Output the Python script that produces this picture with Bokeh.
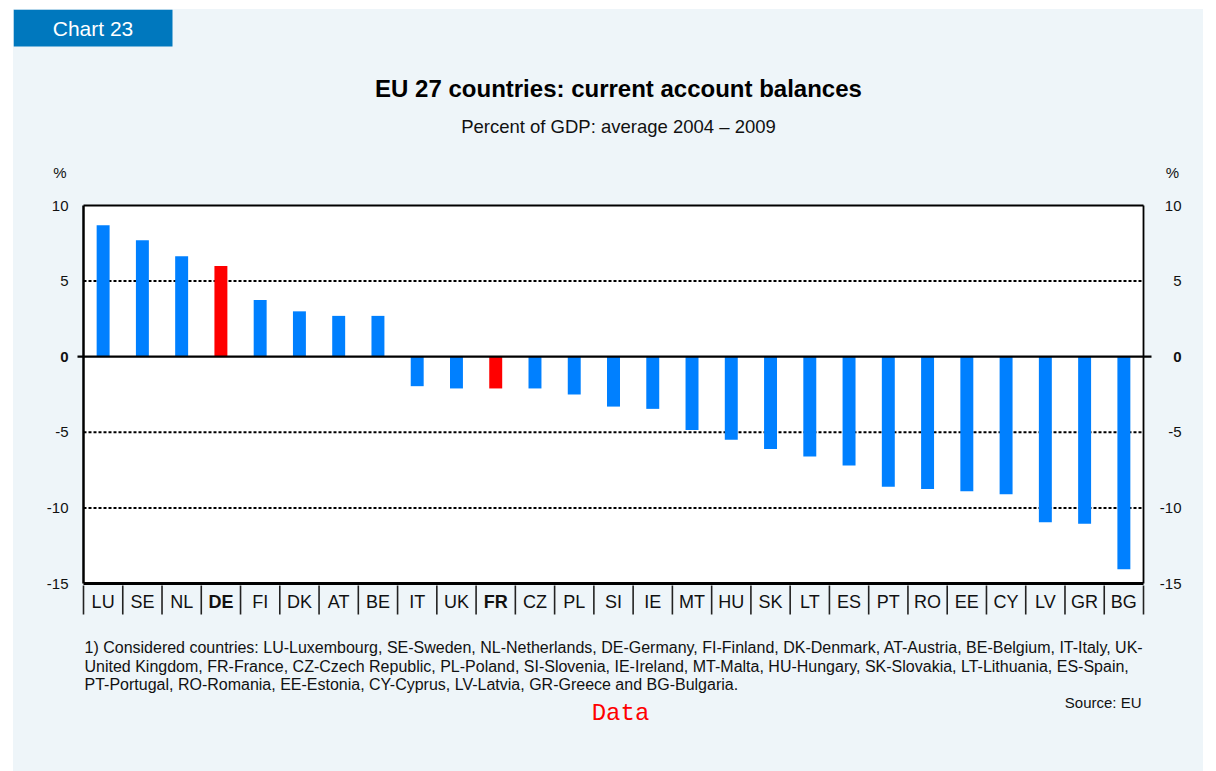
from bokeh.plotting import figure
from bokeh.layouts import column
from bokeh.models import ColumnDataSource, Range1d
from bokeh.embed import file_html
from bokeh.resources import INLINE
from bokeh.core.properties import value

# ---------------- data ----------------
countries = ["LU", "SE", "NL", "DE", "FI", "DK", "AT", "BE", "IT", "UK", "FR", "CZ", "PL", "SI",
             "IE", "MT", "HU", "SK", "LT", "ES", "PT", "RO", "EE", "CY", "LV", "GR", "BG"]
balances = [8.7, 7.7, 6.65, 6.0, 3.75, 3.0, 2.7, 2.7, -1.95, -2.1, -2.1, -2.1, -2.5, -3.3,
            -3.45, -4.85, -5.5, -6.1, -6.6, -7.2, -8.6, -8.75, -8.9, -9.1, -10.95, -11.05, -14.05]
highlight = ["DE", "FR"]
y_ticks = [-15, -10, -5, 0, 5, 10]
y_tick_labels = ["-15", "-10", "-5", "0", "5", "10"]
grid_ticks = [-10, -5, 5]

chart_no = "Chart 23"
title_text = "EU 27 countries: current account balances"
subtitle_text = "Percent of GDP: average 2004 \u2013 2009"
unit_text = "%"
footnote_lines = [
    "1) Considered countries: LU-Luxembourg, SE-Sweden, NL-Netherlands, DE-Germany, FI-Finland, DK-Denmark, AT-Austria, BE-Belgium, IT-Italy, UK-",
    "United Kingdom, FR-France, CZ-Czech Republic, PL-Poland, SI-Slovenia, IE-Ireland, MT-Malta, HU-Hungary, SK-Slovakia, LT-Lithuania, ES-Spain,",
    "PT-Portugal, RO-Romania, EE-Estonia, CY-Cyprus, LV-Latvia, GR-Greece and BG-Bulgaria.",
]
source_text = "Source: EU"
data_text = "Data"

# ---------------- styling / layout (window pixel coordinates) ----------------
PANEL = "#EEF5F9"
BLUE = "#0080FF"
RED = "#FF0000"
TAB = "#0078BE"
INK = "#111111"
FONT = "Liberation Sans"
MONO = "Liberation Mono"

LEFT, TOP, RIGHT, BOTTOM = 13, 9, 1203, 771
W = RIGHT - LEFT
HDR_BOTTOM = 190          # header figure: window y 9..190
MAIN_BOTTOM = 622         # main figure: window y 190..622
FRAME_L, FRAME_R = 83, 1143
FRAME_T, AXIS_B = 205, 583
Y0, Y1 = -15, 10
n = len(countries)

xpx = (FRAME_R - FRAME_L) / n                 # pixels per category
ypx = (AXIS_B - FRAME_T) / (Y1 - Y0)          # pixels per percentage point


def xdata(wx):
    return (wx - FRAME_L) / xpx


def ydata(wy):
    return Y1 - (wy - FRAME_T) / ypx


def text_layer(fig, rows):
    cols = dict(x=[], y=[], text=[], size=[], style=[], align=[], color=[], font=[])
    for r in rows:
        for k, v in zip(cols.keys(), r):
            cols[k].append(v)
    fig.text(x="x", y="y", text="text", source=ColumnDataSource(cols),
             text_font="font", text_font_size="size", text_font_style="style",
             text_align="align", text_color="color", text_baseline="middle")


def base_fig(top, bottom, x_range, y_range):
    f = figure(width=W, height=bottom - top, x_range=x_range, y_range=y_range,
               output_backend="svg", toolbar_location=None,
               x_axis_type=None, y_axis_type=None, min_border=0)
    f.title.visible = False
    f.outline_line_color = None
    f.background_fill_color = PANEL
    f.border_fill_color = PANEL
    return f


# ---------------- header ----------------
hdr = base_fig(TOP, HDR_BOTTOM, Range1d(LEFT, RIGHT), Range1d(HDR_BOTTOM, TOP))
hdr.quad(left=13, right=172, top=9, bottom=46, fill_color=TAB, line_color=None)
text_layer(hdr, [
    (92.5, 28, chart_no, "21px", "normal", "center", "white", FONT),
    (618, 87.5, title_text, "24px", "bold", "center", "black", FONT),
    (618, 125.5, subtitle_text, "18.5px", "normal", "center", INK, FONT),
    (59.5, 172, unit_text, "15px", "normal", "center", INK, FONT),
    (1172, 172, unit_text, "15px", "normal", "center", INK, FONT),
])

# ---------------- main chart ----------------
p = base_fig(HDR_BOTTOM, MAIN_BOTTOM,
             Range1d(xdata(LEFT), xdata(RIGHT)),
             Range1d(ydata(MAIN_BOTTOM), ydata(HDR_BOTTOM)))

xs = [i + 0.5 for i in range(n)]
colors = [RED if c in highlight else BLUE for c in countries]
styles = ["bold" if c in highlight else "normal" for c in countries]
src = ColumnDataSource(dict(x=xs, val=balances, color=colors, country=countries, style=styles))

# plot area
p.quad(left=0, right=n, bottom=Y0, top=Y1, fill_color="white", line_color=None)

# dotted grid lines
p.segment(x0=[0] * len(grid_ticks), x1=[n] * len(grid_ticks), y0=grid_ticks, y1=grid_ticks,
          line_color="black", line_width=2, line_dash="3 2")

# bars
p.vbar(x="x", top="val", bottom=0, width=0.33, fill_color="color", line_color=None, source=src)

# frame / axis lines
p.segment(x0=[0, 0, 0, n], x1=[n, n, 0, n], y0=[Y1, Y0, Y0, Y0], y1=[Y1, Y0, Y1, Y1],
          line_color="black", line_width=[2, 3, 2.5, 1.8])
# zero line with its small outer ticks
p.segment(x0=[xdata(77)], x1=[xdata(1151)], y0=[0], y1=[0], line_color="black", line_width=2.2)

# category separators
seps = list(range(n + 1))
p.segment(x0=seps, x1=seps, y0=[ydata(AXIS_B + 2)] * len(seps), y1=[ydata(AXIS_B + 31)] * len(seps),
          line_color="#222222", line_width=1.6)

# category labels
p.text(x="x", y=ydata(601), text="country", source=src, text_font=value(FONT),
       text_font_size="18px", text_font_style="style", text_align="center",
       text_baseline="middle", text_color=INK)

# y tick labels on both sides
tick_styles = ["bold" if t == 0 else "normal" for t in y_ticks]
for wx in (68, 1181):
    tsrc = ColumnDataSource(dict(x=[xdata(wx)] * len(y_ticks), y=y_ticks,
                                 text=y_tick_labels, style=tick_styles))
    p.text(x="x", y="y", text="text", source=tsrc, text_font=value(FONT),
           text_font_size="15px", text_font_style="style", text_align="right",
           text_baseline="middle", text_color=INK)

# ---------------- footer ----------------
ftr = base_fig(MAIN_BOTTOM, BOTTOM, Range1d(LEFT, RIGHT), Range1d(BOTTOM, MAIN_BOTTOM))
rows = [(84, 647 + 18.5 * i, line, "16px", "normal", "left", INK, FONT)
        for i, line in enumerate(footnote_lines)]
rows.append((1141, 702, source_text, "15px", "normal", "right", INK, FONT))
rows.append((620, 713, data_text, "24px", "normal", "center", "red", MONO))
text_layer(ftr, rows)

layout = column(hdr, p, ftr, spacing=0)
layout.margin = (TOP, 0, 0, LEFT)
layout.styles = {"background-color": PANEL}

open("out.html", "w").write(file_html(layout, INLINE))
